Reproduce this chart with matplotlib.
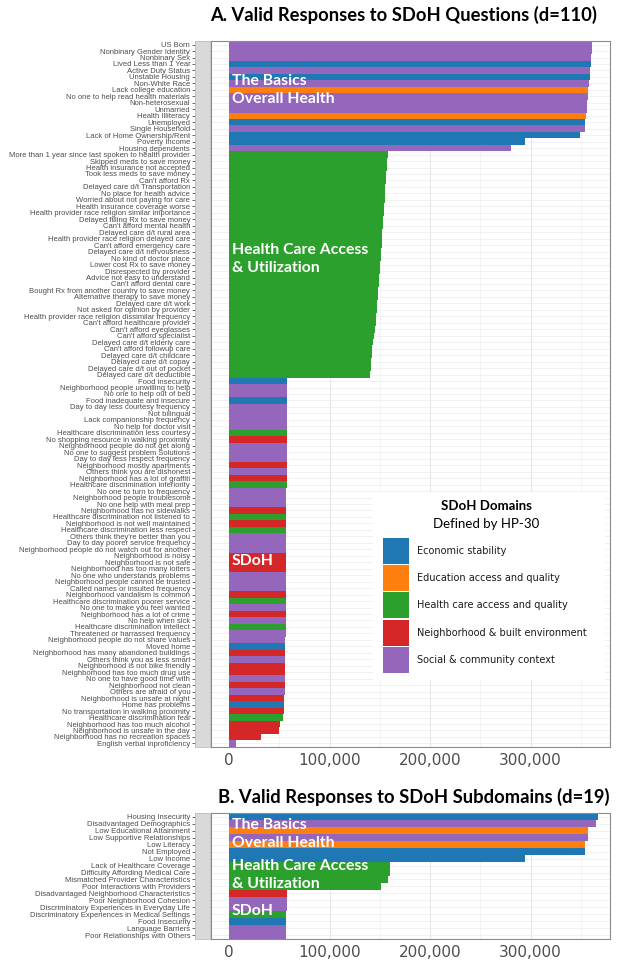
import numpy as np
import matplotlib

matplotlib.use('Agg')
import matplotlib.pyplot as plt
from matplotlib.patches import Rectangle
from matplotlib.ticker import FuncFormatter, MultipleLocator

# domain colours (HP-30)
DOMAIN_COLORS = {
    'E': '#1F77B4',  # Economic stability
    'D': '#FF7F0E',  # Education access and quality
    'H': '#2CA02C',  # Health care access and quality
    'N': '#D62728',  # Neighborhood & built environment
    'S': '#9467BD',  # Social & community context
}
legend_labels = ['Economic stability', 'Education access and quality',
                 'Health care access and quality', 'Neighborhood & built environment',
                 'Social & community context']
legend_keys = ['E', 'D', 'H', 'N', 'S']

# ---- panel A: questions ----
questions = [
    "US Born", "Nonbinary Gender Identity", "Nonbinary Sex", "Lived Less than 1 Year",
    "Active Duty Status", "Unstable Housing", "Non-White Race", "Lack college education",
    "No one to help read health materials", "Non-heterosexual", "Unmarried", "Health Illiteracy",
    "Unemployed", "Single Household", "Lack of Home Ownership/Rent", "Poverty Income",
    "Housing dependents", "More than 1 year since last spoken to health provider",
    "Skipped meds to save money", "Health insurance not accepted", "Took less meds to save money",
    "Can't afford Rx", "Delayed care d/t Transportation", "No place for health advice",
    "Worried about not paying for care", "Health insurance coverage worse",
    "Health provider race religion similar importance", "Delayed filling Rx to save money",
    "Can't afford mental health", "Delayed care d/t rural area",
    "Health provider race religion delayed care", "Can't afford emergency care",
    "Delayed care d/t nervousness", "No kind of doctor place", "Lower cost Rx to save money",
    "Disrespected by provider", "Advice not easy to understand", "Can't afford dental care",
    "Bought Rx from another country to save money", "Alternative therapy to save money",
    "Delayed care d/t work", "Not asked for opinion by provider",
    "Health provider race religion dissimilar frequency", "Can't afford healthcare provider",
    "Can't afford eyeglasses", "Can't afford specialist", "Delayed care d/t elderly care",
    "Can't afford followup care", "Delayed care d/t childcare", "Delayed care d/t copay",
    "Delayed care d/t out of pocket", "Delayed care d/t deductible", "Food insecurity",
    "Neighborhood people unwilling to help", "No one to help out of bed",
    "Food inadequate and insecure", "Day to day less courtesy frequency", "Not bilingual",
    "Lack companionship frequency", "No help for doctor visit",
    "Healthcare discrimination less courtesy", "No shopping resource in walking proximity",
    "Neighborhood people do not get along", "No one to suggest problem Solutions",
    "Day to day less respect frequency", "Neighborhood mostly apartments",
    "Others think you are dishonest", "Neighborhood has a lot of graffiti",
    "Healthcare discrimination inferiority", "No one to turn to frequency",
    "Neighborhood people troublesome", "No one help with meal prep",
    "Neighborhood has no sidewalks", "Healthcare discrimination not listened to",
    "Neighborhood is not well maintained", "Healthcare discrimination less respect",
    "Others think they're better than you", "Day to day poorer service frequency",
    "Neighborhood people do not watch out for another", "Neighborhood is noisy",
    "Neighborhood is not safe", "Neighborhood has too many loiters",
    "No one who understands problems", "Neighborhood people cannot be trusted",
    "Called names or insulted frequency", "Neighborhood vandalism is common",
    "Healthcare discrimination poorer service", "No one to make you feel wanted",
    "Neighborhood has a lot of crime", "No help when sick", "Healthcare discrimination intellect",
    "Threatened or harrassed frequency", "Neighborhood people do not share values", "Moved home",
    "Neighborhood has many abandoned buildings", "Others think you as less smart",
    "Neighborhood is not bike friendly", "Neighborhood has too much drug use",
    "No one to have good time with", "Neighborhood not clean", "Others are afraid of you",
    "Neighborhood is unsafe at night", "Home has problems",
    "No transportation in walking proximity", "Healthcare discrimination fear",
    "Neighborhood has too much alcohol", "Neighborhood is unsafe in the day",
    "Neighborhood has no recreation spaces", "English verbal inproficiency",
]
question_domains = list(
    "SSSESESDSSSDESEES"
    "HHHHHHHHHHHHHHHHHHHHHHHHHHHHHHHHHHH"
    "ESSESSSSHNSSSNSNHSSSNHNHSSSNNNSSSNHSNSHSSENSNNSNSNENHNNNS"
)
# thousands of valid responses
question_values = [
    361.5, 361.0, 360.5, 360.0, 359.5, 359.0, 358.5, 357.5, 357.0, 356.5, 356.0, 355.0,
    354.5, 354.0, 349.0, 294.0, 280.0,
    158.0, 157.5, 157.0, 156.5, 156.0, 155.5, 155.0, 154.8, 154.5, 154.0, 153.5, 153.0,
    152.6, 152.2, 151.8, 151.4, 151.0, 150.5, 150.0, 149.5, 149.0, 148.5, 148.0, 147.5,
    147.0, 146.5, 146.0, 145.0, 144.0, 143.0, 142.5, 142.0, 141.5, 141.0, 140.0,
    57.8, 57.7, 57.7, 57.6, 57.6, 57.5, 57.5, 57.5, 57.4, 57.4, 57.4, 57.3, 57.3, 57.3,
    57.2, 57.2, 57.2, 57.1, 57.1, 57.1, 57.0, 57.0, 57.0, 56.9, 56.9, 56.9, 56.8, 56.8,
    56.8, 56.7, 56.7, 56.6, 56.6, 56.5, 56.5, 56.4, 56.4, 56.3, 56.3, 56.2, 56.1, 56.0,
    55.9, 55.8, 55.7, 55.6, 55.5, 55.4, 55.2, 55.0, 54.8, 54.5, 53.5, 51.0, 49.5, 31.5, 6.5,
]

# ---- panel B: subdomains ----
subdomains = [
    "Housing Insecurity", "Disadvantaged Demographics", "Low Educational Attainment",
    "Low Supportive Relationships", "Low Literacy", "Not Employed", "Low Income",
    "Lack of Healthcare Coverage", "Difficulty Affording Medical Care",
    "Mismatched Provider Characteristics", "Poor Interactions with Providers",
    "Disadvantaged Neighborhood Characteristics", "Poor Neighborhood Cohesion",
    "Discriminatory Experiences in Everyday Life", "Discriminatory Experiences in Medical Settings",
    "Food Insecurity", "Language Barriers", "Poor Relationships with Others",
]
subdomain_domains = list("ESDSDEEHHHHNSSHESS")
subdomain_values = [367.0, 365.5, 357.6, 357.6, 354.6, 354.6, 294.5, 160.6, 160.0, 158.5,
                    151.6, 57.7, 57.2, 57.2, 57.1, 57.1, 57.0, 57.0]

W, H = 620, 960
TITLE_FONT = ['Lato', 'DejaVu Sans']
LABEL_FONT = ['Liberation Sans', 'DejaVu Sans']


def px_rect(x0, y0, x1, y1):
    return [x0 / W, 1 - y1 / H, (x1 - x0) / W, (y1 - y0) / H]


def draw_panel(fig, labels, values, domains, top, bottom):
    n = len(labels)
    vals = np.array(values) * 1000
    ax = fig.add_axes(px_rect(211, top, 610, bottom))
    strip = fig.add_axes(px_rect(195, top, 210, bottom), sharey=ax)

    ypos = np.arange(n)
    ax.barh(ypos, vals, height=1.0, color=[DOMAIN_COLORS[d] for d in domains],
            linewidth=0, zorder=2)
    ax.set_xlim(-18000, 379000)
    ax.set_ylim(n - 0.45, -0.55)
    ax.xaxis.set_major_locator(MultipleLocator(100000))
    ax.xaxis.set_minor_locator(MultipleLocator(50000))
    ax.xaxis.set_major_formatter(FuncFormatter(lambda v, p: f'{int(v):,}'))
    ax.grid(which='major', axis='x', color='#E6E6E6', linewidth=0.8, zorder=0)
    ax.grid(which='minor', axis='x', color='#F0F0F0', linewidth=0.5, zorder=0)
    ax.set_yticks(ypos)
    ax.grid(which='major', axis='y', color='#EBEBEB', linewidth=0.5, zorder=0)
    ax.tick_params(axis='y', left=False, labelleft=False)
    ax.tick_params(axis='x', which='both', length=0, labelsize=11, labelcolor='#4D4D4D', pad=4)
    for s in ax.spines.values():
        s.set_color('#8C8C8C')
        s.set_linewidth(0.8)

    strip.set_facecolor('#D9D9D9')
    strip.set_xticks([])
    strip.set_yticks(ypos)
    strip.set_yticklabels(labels, family=LABEL_FONT, fontsize=5.5, color='#4D4D4D')
    strip.tick_params(axis='y', length=2.5, width=0.6, color='#4D4D4D', pad=1)
    for s in strip.spines.values():
        s.set_color('#BDBDBD')
        s.set_linewidth(0.6)
    return ax


fig = plt.figure(figsize=(6.2, 9.6), dpi=100)

draw_panel(fig, questions, question_values, question_domains, 41, 747)
draw_panel(fig, subdomains, subdomain_values, subdomain_domains, 813, 939)

fig.text(404 / W, 1 - 15 / H, 'A. Valid Responses to SDoH Questions (d=110)',
         ha='center', va='center', fontsize=13.2, fontweight='bold', family=TITLE_FONT)
fig.text(414 / W, 1 - 797 / H, 'B. Valid Responses to SDoH Subdomains (d=19)',
         ha='center', va='center', fontsize=13.2, fontweight='bold', family=TITLE_FONT)

# group labels drawn over the bars
overlays = [('The Basics', 81), ('Overall Health', 99), ('Health Care Access', 250),
            ('& Utilization', 268), ('SDoH', 561),
            ('The Basics', 825), ('Overall Health', 843), ('Health Care Access', 866),
            ('& Utilization', 884), ('SDoH', 911)]
for txt, y in overlays:
    fig.text(232 / W, 1 - y / H, txt, ha='left', va='center', color='white',
             fontsize=11.3, fontweight='bold', family=TITLE_FONT, zorder=10)

# legend box
lax = fig.add_axes(px_rect(373, 492, 605, 680))
lax.set_xlim(373, 605)
lax.set_ylim(680, 492)
lax.axis('off')
lax.add_patch(Rectangle((373, 492), 232, 188, facecolor='white', edgecolor='none'))
lax.text(486, 506, 'SDoH Domains', ha='center', va='center', fontsize=9.5,
         fontweight='bold', family=TITLE_FONT)
lax.text(486, 524, 'Defined by HP-30', ha='center', va='center', fontsize=9.5,
         family=TITLE_FONT)
for i, (key, lab) in enumerate(zip(legend_keys, legend_labels)):
    y0 = 538 + i * 27.2
    lax.add_patch(Rectangle((383, y0), 26, 26, facecolor=DOMAIN_COLORS[key], edgecolor='none'))
    lax.text(417, y0 + 13, lab, ha='left', va='center', fontsize=7, color='#1A1A1A')

fig.savefig('out.png', dpi=100)
